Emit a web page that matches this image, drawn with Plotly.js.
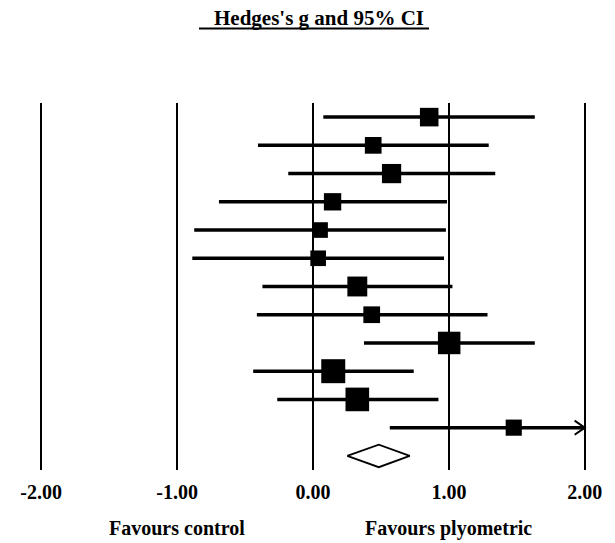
<!DOCTYPE html>
<html>
<head>
<meta charset="utf-8">
<script src="https://cdn.plot.ly/plotly-3.0.1.min.js"></script>
<style>html,body{margin:0;padding:0;background:#fff;}#chart{width:615px;height:543px;}</style>
</head>
<body>
<div id="chart"></div>
<script>
// ---- data ----
var rows = [1, 2, 3, 4, 5, 6, 7, 8, 9, 10, 11, 12];
var hedgesG = [0.855, 0.443, 0.578, 0.144, 0.052, 0.038, 0.326, 0.432, 1.002, 0.149, 0.326, 1.477];
var lowerCI = [0.076, -0.405, -0.182, -0.692, -0.874, -0.888, -0.372, -0.413, 0.375, -0.440, -0.263, 0.565];
var upperCI = [1.632, 1.293, 1.341, 0.986, 0.978, 0.964, 1.026, 1.284, 1.632, 0.741, 0.923, 2.390];
var weights = [7.9, 6.4, 8.5, 6.9, 5.6, 5.6, 9.1, 6.4, 11.6, 13.2, 12.8, 6.0];
var pooledRow = 13;
var pooledG = 0.484;
var pooledLower = 0.252;
var pooledUpper = 0.712;
var tickVals = [-2, -1, 0, 1, 2];
var tickLabels = ['-2.00', '-1.00', '0.00', '1.00', '2.00'];
var titleText = "Hedges's g and 95% CI";
var leftLabel = 'Favours control';
var rightLabel = 'Favours plyometric';

// ---- build ----
var xMin = -2, xMax = 2;
var FONT = '"Liberation Serif", "Times New Roman", serif';

var ciX = [], ciY = [];
var arrX = [], arrY = [];
for (var i = 0; i < rows.length; i++) {
  var lo = Math.max(lowerCI[i], xMin), hi = Math.min(upperCI[i], xMax);
  ciX.push(lo, hi, null); ciY.push(rows[i], rows[i], null);
  if (upperCI[i] > xMax) {
    arrX.push(xMax - 0.075, xMax, xMax - 0.075, null);
    arrY.push(rows[i] - 0.25, rows[i], rows[i] + 0.25, null);
  }
  if (lowerCI[i] < xMin) {
    arrX.push(xMin + 0.075, xMin, xMin + 0.075, null);
    arrY.push(rows[i] - 0.25, rows[i], rows[i] + 0.25, null);
  }
}

var sizes = weights.map(function (w) { return 6.6 * Math.sqrt(w); });

var traces = [
  { x: ciX, y: ciY, mode: 'lines', line: { color: '#000', width: 3.5 }, hoverinfo: 'skip', showlegend: false },
  { x: arrX, y: arrY, mode: 'lines', line: { color: '#000', width: 2 }, hoverinfo: 'skip', showlegend: false, cliponaxis: false },
  { x: hedgesG, y: rows, mode: 'markers', marker: { symbol: 'square', color: '#000', opacity: 1, size: sizes, line: { width: 0 } }, showlegend: false },
  { x: [pooledLower, pooledG, pooledUpper, pooledG, pooledLower],
    y: [pooledRow, pooledRow - 0.4, pooledRow, pooledRow + 0.4, pooledRow],
    mode: 'lines', fill: 'toself', fillcolor: '#fff', line: { color: '#000', width: 1.8 }, showlegend: false, cliponaxis: false }
];

var layout = {
  width: 615, height: 543,
  margin: { l: 14, r: 3, t: 103, b: 73 },
  paper_bgcolor: '#fff', plot_bgcolor: '#fff',
  showlegend: false,
  xaxis: {
    range: [-2.2, 2.2], tickvals: tickVals, ticktext: tickLabels,
    showgrid: true, gridcolor: '#000', gridwidth: 2, zeroline: false, showline: false,
    ticks: '', ticklabelstandoff: 8,
    tickfont: { family: FONT, size: 20, color: '#000', weight: 'bold' }, fixedrange: true
  },
  yaxis: {
    range: [13.5, 0.5], showgrid: false, zeroline: false, showline: false, showticklabels: false, ticks: '', fixedrange: true
  },
  annotations: [
    { text: titleText, xref: 'paper', yref: 'paper', x: (319 - 14) / 598, y: 1 + (103 - 18) / 367, xanchor: 'center', yanchor: 'middle', showarrow: false,
      font: { family: FONT, size: 21, color: '#000', weight: 'bold' } },
    { text: leftLabel, xref: 'x', yref: 'paper', x: -1, y: (470 - 528) / 367, xanchor: 'center', yanchor: 'middle', showarrow: false,
      font: { family: FONT, size: 20, color: '#000', weight: 'bold' } },
    { text: rightLabel, xref: 'x', yref: 'paper', x: 1, y: (470 - 528) / 367, xanchor: 'center', yanchor: 'middle', showarrow: false,
      font: { family: FONT, size: 20, color: '#000', weight: 'bold' } }
  ],
  shapes: [
    { type: 'line', xref: 'paper', yref: 'paper', x0: (199 - 14) / 598, x1: (429 - 14) / 598, y0: 1 + (103 - 28.5) / 367, y1: 1 + (103 - 28.5) / 367,
      line: { color: '#000', width: 2 } }
  ]
};

Plotly.newPlot('chart', traces, layout, { displayModeBar: false, staticPlot: true });
</script>
</body>
</html>
